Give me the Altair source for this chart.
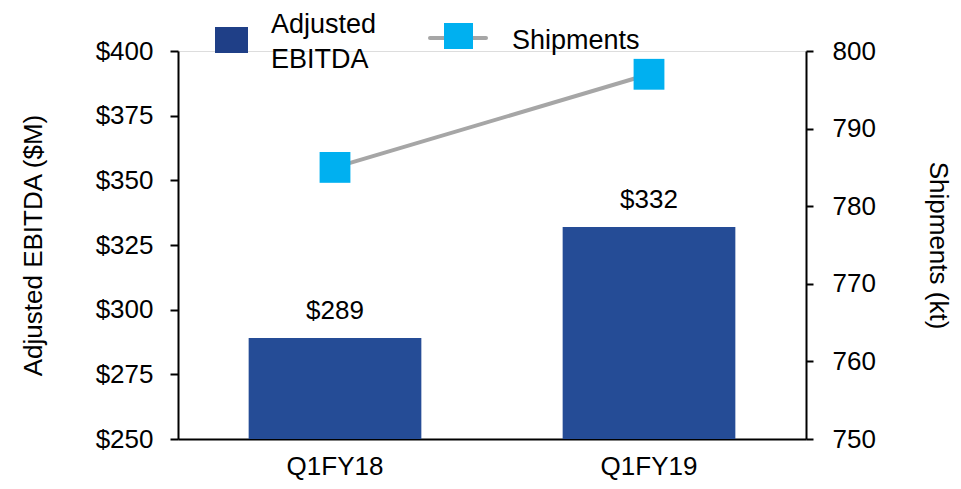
import altair as alt
import pandas as pd

quarters = ["Q1FY18", "Q1FY19"]
ebitda = [289, 332]
shipments = [785, 797]
ebitda_labels = ["$289", "$332"]

FONT = "Liberation Sans"
FS = 26
BAR_C = "#254C96"
LEG_BAR_C = "#1F3F87"
SHIP_C = "#00B0F0"
LINE_C = "#A6A6A6"

df = pd.DataFrame({"q": quarters, "ebitda": ebitda, "ship": shipments, "lbl": ebitda_labels})

xenc = alt.X("q:N", sort=quarters, title=None,
             scale=alt.Scale(paddingInner=0.45, paddingOuter=0.225),
             axis=alt.Axis(ticks=False, labelAngle=0, labelPadding=14, labelFontSize=FS,
                           labelFont=FONT, labelColor="black", domainColor="black",
                           domainWidth=2))

yleft = alt.Y("ebitda:Q", title="Adjusted EBITDA ($M)",
              scale=alt.Scale(domain=[250, 400], nice=False, zero=False),
              axis=alt.Axis(values=[250, 275, 300, 325, 350, 375, 400], format="$.0f",
                            grid=False, tickSize=8, tickColor="black", tickWidth=2,
                            domainColor="black", domainWidth=2, labelPadding=17,
                            labelFontSize=FS, labelFont=FONT, labelColor="black",
                            titleFontSize=FS, titleFont=FONT, titleFontWeight="normal",
                            titleColor="black", titlePadding=49))

bars = alt.Chart(df).mark_bar(color=BAR_C, clip=True).encode(x=xenc, y=yleft)
labels = alt.Chart(df).mark_text(fontSize=FS, font=FONT, color="black",
                                 baseline="alphabetic", dy=-19).encode(
    x=alt.X("q:N", sort=quarters), y=alt.Y("ebitda:Q"), text="lbl:N")

left = alt.layer(bars, labels)

yright = alt.Y("ship:Q", title="Shipments (kt)",
               scale=alt.Scale(domain=[750, 800], nice=False, zero=False),
               axis=alt.Axis(orient="right", values=[750, 760, 770, 780, 790, 800],
                             grid=False, tickSize=7, tickColor="black", tickWidth=2,
                             domainColor="black", domainWidth=2, labelPadding=19,
                             labelFontSize=FS, labelFont=FONT, labelColor="black",
                             titleFontSize=FS, titleFont=FONT, titleFontWeight="normal",
                             titleColor="black", titleAngle=90, titlePadding=49))

line = alt.Chart(df).mark_line(color=LINE_C, strokeWidth=4).encode(
    x=alt.X("q:N", sort=quarters), y=yright)
pts = alt.Chart(df).mark_point(shape="square", filled=True, size=950, color=SHIP_C,
                               opacity=1).encode(x=alt.X("q:N", sort=quarters), y=yright)
right = alt.layer(line, pts)

# manual legend
leg1 = pd.DataFrame({"t": ["Adjusted EBITDA"]})
leg2 = pd.DataFrame({"t": ["Shipments"]})
leg_sq1 = alt.Chart(leg1).mark_rect(color=LEG_BAR_C).encode(
    x=alt.value(37), x2=alt.value(70), y=alt.value(-24), y2=alt.value(2), detail="t:N")
leg_txt1 = alt.Chart(leg1).mark_text(fontSize=27, font=FONT, color="black", align="left",
                                     baseline="alphabetic", lineBreak=" ", lineHeight=35).encode(
    x=alt.value(93), y=alt.value(-18), text="t:N")
leg_ln = alt.Chart(leg2).mark_rule(color=LINE_C, strokeWidth=4, strokeCap="round").encode(
    x=alt.value(252), x2=alt.value(308), y=alt.value(-13), detail="t:N")
leg_sq2 = alt.Chart(leg2).mark_rect(color=SHIP_C).encode(
    x=alt.value(266), x2=alt.value(295), y=alt.value(-28), y2=alt.value(-2), detail="t:N")
leg_txt2 = alt.Chart(leg2).mark_text(fontSize=27, font=FONT, color="black", align="left",
                                     baseline="alphabetic").encode(
    x=alt.value(334), y=alt.value(-2), text="t:N")
legend = alt.layer(leg_sq1, leg_txt1, leg_ln, leg_sq2, leg_txt2)

chart = alt.layer(left, right, legend).resolve_scale(y="independent").properties(
    width=628, height=388,
    autosize=alt.AutoSizeParams(type="none"),
    padding={"left": 170, "top": 43, "right": 147, "bottom": 42},
).configure_view(stroke=None).configure(background="white")

chart.save("out.html", embed_options={"renderer": "svg", "actions": False})
